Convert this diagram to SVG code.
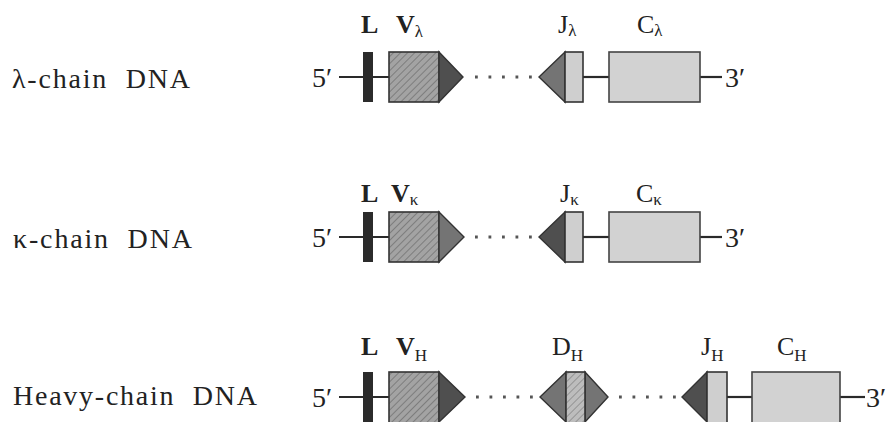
<svg xmlns="http://www.w3.org/2000/svg" width="890" height="422" viewBox="0 0 890 422">
<style>
.lbl{font-family:"Liberation Serif","Times New Roman",serif;font-size:28px;fill:#222}
.end{font-family:"Liberation Serif","Times New Roman",serif;font-size:28px;fill:#222}
.gl{font-family:"Liberation Serif","Times New Roman",serif;font-size:26px;fill:#222}
.b{font-weight:bold}
.sub{font-size:17px;font-weight:normal}
.ln{stroke:#2a2a2a;stroke-width:2.2;fill:none}
.dot{stroke:#555;stroke-width:2.8;stroke-dasharray:2.8 10.7;fill:none}
.Lbar{fill:#2b2b2b}
.V{fill:url(#hatch);stroke:#333;stroke-width:1.6}
.Dc{fill:url(#hatchL);stroke:#333;stroke-width:1.6}
.tD{fill:#4f4f4f;stroke:#333;stroke-width:1.4}
.tM{fill:#747474;stroke:#333;stroke-width:1.4}
.J{fill:#cfcfcf;stroke:#333;stroke-width:1.6}
.C{fill:#d2d2d2;stroke:#444;stroke-width:1.6}
</style>
<defs>
<pattern id="hatch" width="5" height="5" patternUnits="userSpaceOnUse" patternTransform="rotate(45)">
<rect width="5" height="5" fill="#a3a3a3"/>
<line x1="0" y1="0" x2="0" y2="5" stroke="#7d7d7d" stroke-width="2"/>
</pattern>
<pattern id="hatchL" width="5" height="5" patternUnits="userSpaceOnUse" patternTransform="rotate(45)">
<rect width="5" height="5" fill="#bdbdbd"/>
<line x1="0" y1="0" x2="0" y2="5" stroke="#949494" stroke-width="2"/>
</pattern>
</defs>
<rect width="890" height="422" fill="#fff"/>

<!-- Row labels -->
<g id="label-lambda"><text class="lbl" x="12" y="88" textLength="178" lengthAdjust="spacing" xml:space="preserve">λ-chain  DNA</text></g>
<g id="label-kappa"><text class="lbl" x="13" y="248" textLength="179" lengthAdjust="spacing" xml:space="preserve">κ-chain  DNA</text></g>
<g id="label-heavy"><text class="lbl" x="13" y="405" textLength="244" lengthAdjust="spacing" xml:space="preserve">Heavy-chain  DNA</text></g>

<!-- connectors (DNA strands) -->
<g id="connectors">
<line class="ln" x1="339" y1="77" x2="389" y2="77"/>
<line class="dot" x1="475" y1="77" x2="535" y2="77"/>
<line class="ln" x1="583" y1="77" x2="609" y2="77"/>
<line class="ln" x1="700" y1="77" x2="722" y2="77"/>

<line class="ln" x1="339" y1="237" x2="389" y2="237"/>
<line class="dot" x1="475" y1="237" x2="535" y2="237"/>
<line class="ln" x1="583" y1="237" x2="609" y2="237"/>
<line class="ln" x1="700" y1="237" x2="722" y2="237"/>

<line class="ln" x1="339" y1="397" x2="389" y2="397"/>
<line class="dot" x1="476" y1="397" x2="536" y2="397"/>
<line class="dot" x1="619" y1="397" x2="679" y2="397"/>
<line class="ln" x1="727" y1="397" x2="752" y2="397"/>
<line class="ln" x1="840" y1="397" x2="865" y2="397"/>
</g>

<!-- Lambda row -->
<g id="lambda-5"><text class="end" x="312" y="87">5′</text></g>
<g id="lambda-L"><rect class="Lbar" x="363" y="52" width="10" height="50"/><text class="gl b" x="361" y="33">L</text></g>
<g id="lambda-V"><rect class="V" x="389" y="52" width="50" height="50"/><polygon class="tD" points="439,52 463,77 439,102"/><text class="gl b" x="396" y="33">V<tspan class="sub" dy="4">λ</tspan></text></g>
<g id="lambda-J"><polygon class="tM" points="565,52 539,77 565,102"/><rect class="J" x="565" y="52" width="18" height="50"/><text class="gl" x="558" y="33">J<tspan class="sub" dy="3">λ</tspan></text></g>
<g id="lambda-C"><rect class="C" x="609" y="52" width="91" height="50"/><text class="gl" x="637" y="33">C<tspan class="sub" dy="3">λ</tspan></text></g>
<g id="lambda-3"><text class="end" x="725" y="87">3′</text></g>

<!-- Kappa row -->
<g id="kappa-5"><text class="end" x="312" y="247">5′</text></g>
<g id="kappa-L"><rect class="Lbar" x="363" y="212" width="10" height="50"/><text class="gl b" x="361" y="202">L</text></g>
<g id="kappa-V"><rect class="V" x="389" y="212" width="50" height="50"/><polygon class="tM" points="439,212 464,237 439,262"/><text class="gl b" x="391" y="202">V<tspan class="sub" dy="3">κ</tspan></text></g>
<g id="kappa-J"><polygon class="tD" points="565,212 539,237 565,262"/><rect class="J" x="565" y="212" width="18" height="50"/><text class="gl" x="560" y="202">J<tspan class="sub" dy="3">κ</tspan></text></g>
<g id="kappa-C"><rect class="C" x="609" y="212" width="91" height="50"/><text class="gl" x="636" y="202">C<tspan class="sub" dy="3">κ</tspan></text></g>
<g id="kappa-3"><text class="end" x="725" y="247">3′</text></g>

<!-- Heavy row -->
<g id="heavy-5"><text class="end" x="312" y="407">5′</text></g>
<g id="heavy-L"><rect class="Lbar" x="363" y="372" width="10" height="52"/><text class="gl b" x="361" y="355">L</text></g>
<g id="heavy-V"><rect class="V" x="389" y="372" width="50" height="52"/><polygon class="tD" points="439,372 465,397 439,422"/><text class="gl b" x="396" y="355">V<tspan class="sub" dy="6">H</tspan></text></g>
<g id="heavy-D"><polygon class="tM" points="566,372 540,397 566,422"/><polygon class="tM" points="585,372 608,397 585,422"/><rect class="Dc" x="566" y="372" width="19" height="52"/><text class="gl" x="552" y="355">D<tspan class="sub" dy="6">H</tspan></text></g>
<g id="heavy-J"><polygon class="tD" points="707,372 682,397 707,422"/><rect class="J" x="707" y="372" width="20" height="52"/><text class="gl" x="701" y="355">J<tspan class="sub" dy="6">H</tspan></text></g>
<g id="heavy-C"><rect class="C" x="752" y="372" width="88" height="52"/><text class="gl" x="777" y="355">C<tspan class="sub" dy="6">H</tspan></text></g>
<g id="heavy-3"><text class="end" x="866" y="407">3′</text></g>
</svg>
